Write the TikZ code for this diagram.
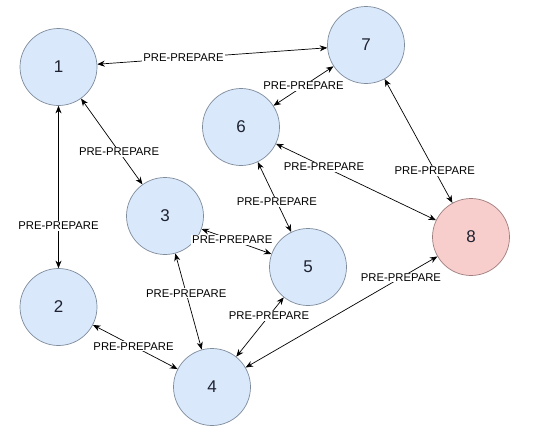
\documentclass[tikz,border=0pt]{standalone}
\usepackage{fontspec}
\setmainfont{Liberation Sans}
\usepackage{xcolor}
\usepackage{tikz}
\usetikzlibrary{arrows.meta}
\definecolor{peerblue}{HTML}{DAE8FC}
\definecolor{peerline}{HTML}{7F8C9C}
\definecolor{leadred}{HTML}{F8CECC}
\definecolor{leadline}{HTML}{9E7E7E}
\definecolor{digit}{HTML}{1E2230}

\begin{document}
\begin{tikzpicture}[x=1pt,y=-1pt,
  peer/.style={circle, draw=peerline, fill=peerblue, line width=0.7pt,
    minimum size=77pt, inner sep=0pt, text=digit,
    font=\fontsize{17}{20}\selectfont},
  msg/.style={{Stealth[length=7.5pt,width=6pt]}-{Stealth[length=7.5pt,width=6pt]}, line width=0.7pt},
  lbl/.style={fill=white, inner sep=1pt, font=\fontsize{11.3}{13}\selectfont}]

\useasboundingbox (0,0) rectangle (545,434);

% Replicas
\foreach \n/\x/\y in {1/58.5/67,7/366/45,6/241/127,3/165/216,5/308/267,2/58.5/307,4/212/387}
{
    \node[peer] (n\n) at (\x,\y) {\n};
}
\node[peer, draw=leadline, fill=leadred] (n8) at (471,237) {8};

% Messages
\foreach \a/\b/\p in {1/7/0.375,1/2/0.74,1/3/0.62,3/5/0.44,3/4/0.415,2/4/0.48,4/5/0.69,6/5/0.57,6/7/0.5,6/8/0.3,7/8/0.74,4/8/0.81}
{
    \draw[msg] (n\a) -- (n\b) node[pos=\p, lbl] {PRE-PREPARE};
}

\end{tikzpicture}
\end{document}
